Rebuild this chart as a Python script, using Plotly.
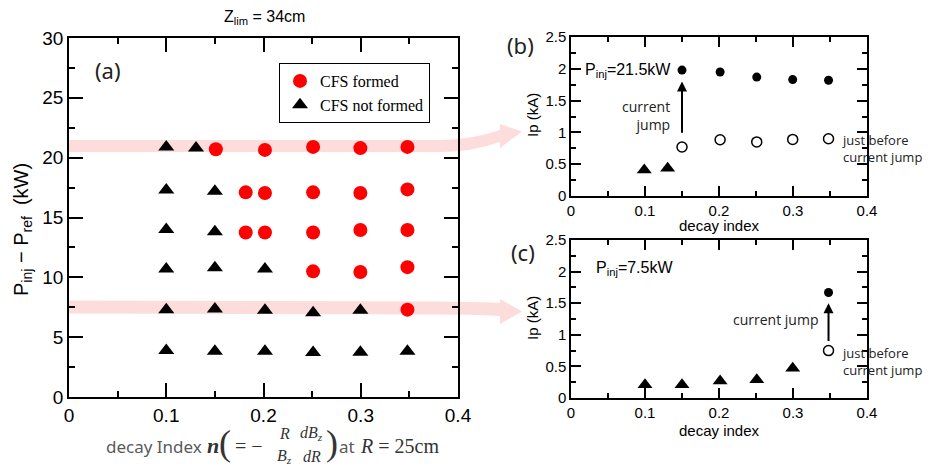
import plotly.graph_objects as go

# The page body has an 8px default margin, so the figure is drawn at (8, 8)
# and sized to fill the rest of the 932x467 window.
W, H = 932, 467
OFF = 8
FW, FH = W - OFF, H - OFF


def px(x):
    return (x - OFF) / FW


def py(y):
    return 1 - (y - OFF) / FH


# ---------------- data ----------------
# Panel (a): P_inj - P_ref (kW) vs decay index
formed_n = [0.151, 0.2015, 0.251, 0.2996, 0.348,
            0.1817, 0.2015, 0.251, 0.2996, 0.348,
            0.1817, 0.2015, 0.251, 0.2996, 0.348,
            0.251, 0.2996, 0.348,
            0.348]
formed_p = [20.7, 20.65, 20.9, 20.8, 20.9,
            17.1, 17.05, 17.1, 17.05, 17.35,
            13.75, 13.75, 13.75, 13.95, 13.95,
            10.5, 10.45, 10.85,
            7.3]
notformed_n = [0.1, 0.1306,
               0.1, 0.15,
               0.1, 0.15,
               0.1, 0.15, 0.2015,
               0.1, 0.15, 0.2015, 0.251, 0.2996,
               0.1, 0.15, 0.2015, 0.251, 0.2996, 0.348]
notformed_p = [20.9, 20.8,
               17.3, 17.2,
               14.0, 13.8,
               10.7, 10.8, 10.7,
               7.3, 7.35, 7.25, 7.05, 7.25,
               3.88, 3.83, 3.83, 3.71, 3.74, 3.83]

# Panel (b): P_inj = 21.5 kW
b_tri_n = [0.099, 0.1306]
b_tri_ip = [0.41, 0.435]
b_jump_n = [0.15, 0.2015, 0.251, 0.2996, 0.348]
b_after_ip = [1.98, 1.95, 1.87, 1.83, 1.82]
b_before_ip = [0.77, 0.885, 0.85, 0.89, 0.90]

# Panel (c): P_inj = 7.5 kW
c_tri_n = [0.1, 0.15, 0.2015, 0.251, 0.2996]
c_tri_ip = [0.21, 0.21, 0.27, 0.29, 0.47]
c_jump_n = [0.348]
c_after_ip = [1.67]
c_before_ip = [0.75]

x_ticks = [0, 0.1, 0.2, 0.3, 0.4]

SANS = "Liberation Sans"
SERIF = "Liberation Serif"
HUMAN = "Open Sans"

fig = go.Figure()

# (a)
fig.add_trace(go.Scatter(x=formed_n, y=formed_p, mode="markers", name="CFS formed",
                         marker=dict(symbol="circle", size=14, color="#ff0000"),
                         xaxis="x", yaxis="y"))
fig.add_trace(go.Scatter(x=notformed_n, y=notformed_p, mode="markers", name="CFS not formed",
                         marker=dict(symbol="triangle-up", size=14, color="black"),
                         xaxis="x", yaxis="y"))
# (b)
fig.add_trace(go.Scatter(x=b_tri_n, y=b_tri_ip, mode="markers", showlegend=False,
                         marker=dict(symbol="triangle-up", size=13, color="black"),
                         xaxis="x2", yaxis="y2"))
fig.add_trace(go.Scatter(x=b_jump_n, y=b_after_ip, mode="markers", showlegend=False,
                         marker=dict(symbol="circle", size=9, color="black"),
                         xaxis="x2", yaxis="y2"))
fig.add_trace(go.Scatter(x=b_jump_n, y=b_before_ip, mode="markers", showlegend=False,
                         marker=dict(symbol="circle-open", size=10, color="black",
                                     line=dict(width=1.5, color="black")),
                         xaxis="x2", yaxis="y2"))
# (c)
fig.add_trace(go.Scatter(x=c_tri_n, y=c_tri_ip, mode="markers", showlegend=False,
                         marker=dict(symbol="triangle-up", size=13, color="black"),
                         xaxis="x3", yaxis="y3"))
fig.add_trace(go.Scatter(x=c_jump_n, y=c_after_ip, mode="markers", showlegend=False,
                         marker=dict(symbol="circle", size=9, color="black"),
                         xaxis="x3", yaxis="y3"))
fig.add_trace(go.Scatter(x=c_jump_n, y=c_before_ip, mode="markers", showlegend=False,
                         marker=dict(symbol="circle-open", size=10, color="black",
                                     line=dict(width=1.5, color="black")),
                         xaxis="x3", yaxis="y3"))


def ax(domain, rng, dtick, mdtick, size, ticklen, mlen, anchor):
    return dict(domain=domain, range=rng, dtick=dtick, tick0=0, anchor=anchor,
                automargin=False,
                showgrid=False, zeroline=False, showline=True, linecolor="black",
                linewidth=1.5, mirror="allticks", ticks="inside", ticklen=ticklen,
                tickwidth=1.5, tickcolor="black",
                tickfont=dict(family=SANS, size=size, color="black"),
                minor=dict(dtick=mdtick, tick0=0, ticks="inside", ticklen=mlen,
                           tickwidth=1.5, tickcolor="black", showgrid=False))


layout = dict(
    width=FW, height=FH,
    margin=dict(l=0, r=0, t=0, b=0, autoexpand=False),
    paper_bgcolor="white", plot_bgcolor="rgba(0,0,0,0)",
    xaxis=ax([px(69), px(458)], [0, 0.4], 0.1, 0.05, 19, 14, 6, "y"),
    yaxis=ax([py(397), py(38)], [0, 30], 5, 2.5, 19, 14, 6, "x"),
    xaxis2=ax([px(571), px(867)], [0, 0.4], 0.1, 0.05, 15, 10, 5, "y2"),
    yaxis2=ax([py(196), py(37)], [0, 2.5], 0.5, 0.25, 15, 10, 5, "x2"),
    xaxis3=ax([px(571), px(867)], [0, 0.4], 0.1, 0.05, 15, 10, 5, "y3"),
    yaxis3=ax([py(398), py(240)], [0, 2.5], 0.5, 0.25, 15, 10, 5, "x3"),
    legend=dict(x=px(279), y=py(63), xanchor="left", yanchor="top",
                bordercolor="black", borderwidth=1, bgcolor="white",
                font=dict(family=SERIF, size=16, color="black"),
                itemsizing="trace", tracegroupgap=0),
)
fig.update_layout(**layout)
fig.update_xaxes(tickvals=x_ticks)


# ---------------- pink bands with arrows ----------------
def path(cmds):
    out = []
    for c in cmds:
        if isinstance(c, str):
            out.append(c)
        else:
            out.append(f"{px(c[0]):.5f},{py(c[1]):.5f}")
    return " ".join(out)


band_up = path(["M", (69, 140), "L", (440, 140), "Q", (472, 140), (500, 130),
                "L", (500, 124), "L", (522, 131.5), "L", (500, 148), "L", (500, 142),
                "Q", (472, 152), (440, 152), "L", (69, 152), "Z"])
band_lo = path(["M", (69, 300.5), "L", (440, 301.5), "Q", (472, 301.5), (500, 303),
                "L", (500, 299), "L", (522, 311.5), "L", (500, 324), "L", (500, 316),
                "Q", (472, 314.5), (440, 314.5), "L", (69, 313.5), "Z"])
shapes = [dict(type="path", path=p, xref="paper", yref="paper",
               fillcolor="#fddcdc", line=dict(width=0), layer="below")
          for p in (band_up, band_lo)]
fig.update_layout(shapes=shapes)

# ---------------- annotations ----------------
ann = []


def txt(x, y, text, size, family=SANS, color="black", xanchor="center", angle=0, yanchor="middle"):
    ann.append(dict(x=px(x), y=py(y), xref="paper", yref="paper", text=text,
                    showarrow=False, xanchor=xanchor, yanchor=yanchor, textangle=angle,
                    font=dict(family=family, size=size, color=color)))


# panel (a)
txt(264, 17, "Z<sub>lim</sub> = 34cm", 16)
txt(108, 70, "(a)", 22, family="Noto Sans", color="#222")
txt(22, 230, "P<sub>inj</sub> − P<sub>ref</sub>  (kW)", 20, angle=-90)
# x title of (a): decay Index n (= -R/Bz dBz/dR) at R = 25cm
GRAY = "#5a5a5a"
DARK = "#333333"
txt(204, 446, "decay Index", 17, family="Noto Sans", color=GRAY, xanchor="right")
txt(213, 445, "<b><i>n</i></b>", 22, family=SERIF, color=DARK)
txt(225, 443, "(", 36, family=SERIF, color=DARK)
txt(249, 446, "= −", 20, family=SERIF, color=DARK)
txt(284, 433, "<i>R</i>", 16, family=SERIF, color=DARK)
txt(284, 456, "<i>B<sub>z</sub></i>", 16, family=SERIF, color=DARK)
txt(311, 433, "<i>dB<sub>z</sub></i>", 16, family=SERIF, color=DARK)
txt(312, 456, "<i>dR</i>", 16, family=SERIF, color=DARK)
txt(332, 443, ")", 36, family=SERIF, color=DARK)
txt(347, 446, "at", 17, family="Noto Sans", color=GRAY)
txt(358, 446, "<i>R</i> = 25cm", 20, family=SERIF, color=DARK, xanchor="left")

# panel (b)
txt(520, 45, "(b)", 22, family="Noto Sans", color="#222")
txt(532, 115, "Ip (kA)", 15, angle=-90)
txt(719, 226, "decay index", 15)
# panel (c)
txt(523, 252, "(c)", 22, family="Noto Sans", color="#222")
txt(532, 318, "Ip (kA)", 15, angle=-90)
txt(719, 430, "decay index", 15)


def dtxt(xr, yr, x, y, text, size, family=HUMAN, xanchor="left", color="#222"):
    ann.append(dict(x=x, y=y, xref=xr, yref=yr, text=text, showarrow=False,
                    xanchor=xanchor, yanchor="middle", align=xanchor,
                    font=dict(family=family, size=size, color=color)))


dtxt("x2", "y2", 0.016, 1.98, "P<sub>inj</sub>=21.5kW", 16, family=SANS, color="black")
dtxt("x2", "y2", 0.137, 1.27, "current<br>jump", 14, xanchor="right")
dtxt("x2", "y2", 0.363, 0.75, "just before<br>current jump", 13)
dtxt("x3", "y3", 0.031, 2.05, "P<sub>inj</sub>=7.5kW", 16, family=SANS, color="black")
dtxt("x3", "y3", 0.336, 1.25, "current jump", 14, xanchor="right")
dtxt("x3", "y3", 0.363, 0.57, "just before<br>current jump", 13)

# arrows
for xr, yr, xv, y0, y1 in (("x2", "y2", 0.15, 0.97, 1.8), ("x3", "y3", 0.348, 0.88, 1.5)):
    ann.append(dict(x=xv, y=y1, ax=xv, ay=y0, xref=xr, yref=yr, axref=xr, ayref=yr,
                    text="", showarrow=True, arrowhead=2, arrowsize=1, arrowwidth=2,
                    arrowcolor="black", standoff=0, startstandoff=0))

fig.update_layout(annotations=ann)

fig.write_html("out.html")
